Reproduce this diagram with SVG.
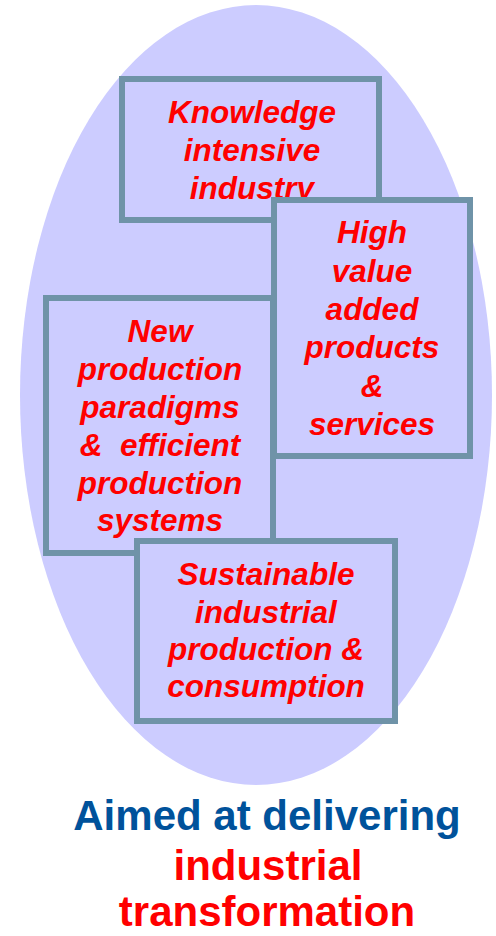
<svg xmlns="http://www.w3.org/2000/svg" width="496" height="936" viewBox="0 0 496 936">
<style>
.box{fill:#ccccff;stroke:#6f93a8;stroke-width:6}
.lbl{font-family:"Liberation Sans",Arial,sans-serif;font-weight:bold;font-style:italic;font-size:31.5px;fill:#ff0000;text-anchor:middle;white-space:pre}
.cap{font-family:"Liberation Sans",Arial,sans-serif;font-weight:bold;font-size:42px;text-anchor:middle}
</style>
<rect width="496" height="936" fill="#ffffff"/>
<g id="background">
<ellipse cx="256" cy="395" rx="236" ry="390" fill="#ccccff"/>
</g>
<g id="node-knowledge">
<rect class="box" x="122" y="79" width="257" height="141"/>
<text class="lbl" x="252" y="123">Knowledge</text>
<text class="lbl" x="252" y="161">intensive</text>
<text class="lbl" x="252" y="199">industry</text>
</g>
<g id="node-high-value">
<rect class="box" x="274" y="200" width="196" height="256"/>
<text class="lbl" x="372" y="243">High</text>
<text class="lbl" x="372" y="282">value</text>
<text class="lbl" x="372" y="320">added</text>
<text class="lbl" x="372" y="358">products</text>
<text class="lbl" x="372" y="397">&amp;</text>
<text class="lbl" x="372" y="435">services</text>
</g>
<g id="node-new-production">
<rect class="box" x="46" y="298" width="227" height="255"/>
<text class="lbl" x="160" y="342">New</text>
<text class="lbl" x="160" y="380">production</text>
<text class="lbl" x="160" y="418">paradigms</text>
<text class="lbl" x="160" y="456" xml:space="preserve">&amp;  efficient</text>
<text class="lbl" x="160" y="494">production</text>
<text class="lbl" x="160" y="531">systems</text>
</g>
<g id="node-sustainable">
<rect class="box" x="137" y="541" width="258" height="180"/>
<text class="lbl" x="266" y="585">Sustainable</text>
<text class="lbl" x="266" y="623">industrial</text>
<text class="lbl" x="266" y="660">production &amp;</text>
<text class="lbl" x="266" y="697">consumption</text>
</g>
<g id="connectors"></g>
<g id="caption">
<text class="cap" x="267" y="830" fill="#00529b">Aimed at delivering</text>
<text class="cap" x="268" y="880" fill="#ff0000">industrial</text>
<text class="cap" x="267" y="926" fill="#ff0000">transformation</text>
</g>
</svg>
